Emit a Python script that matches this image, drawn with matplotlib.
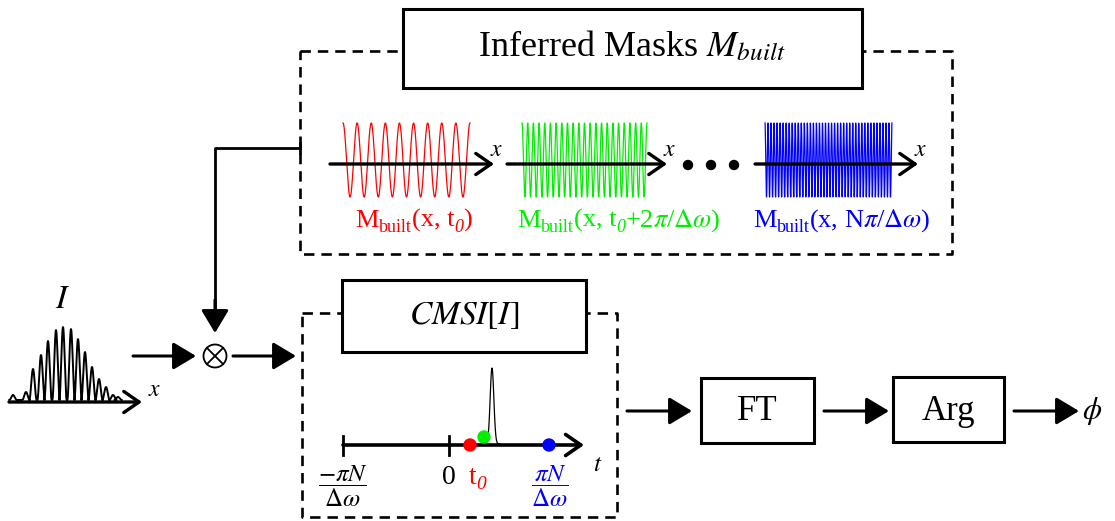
import numpy as np
import matplotlib.pyplot as plt
from matplotlib.patches import Rectangle, Circle

plt.rcParams['font.family'] = ['Liberation Serif', 'DejaVu Serif']
plt.rcParams['mathtext.fontset'] = 'stix'
plt.rcParams['lines.scale_dashes'] = False

# input interferogram I: fringe peak heights (px above baseline)
fringe_pos = [13, 26, 33, 41, 48, 56, 63, 71, 78, 85, 92, 99, 106, 113, 118]
fringe_height = [5, 8, 31, 45, 59, 70, 73, 71, 61, 48, 33, 21, 13, 5, 3]

# inferred masks
mask_colors = ['#ff0000', '#00ee00', '#0000ff']
mask_cycles = [9, 22, 42]
mask_wave_x = [(343, 470), (522, 647), (765, 892)]
mask_axis_x = [(330, 494), (507, 667), (755, 918)]
# label pieces: (text, size, style, drop below baseline)
mask_labels = [
    [('M', 19, 'normal', 0), ('built', 13, 'normal', 5), ('(x, t', 19, 'normal', 0),
     ('0', 13, 'italic', 5), (')', 19, 'normal', 0)],
    [('M', 19, 'normal', 0), ('built', 13, 'normal', 5), ('(x, t', 19, 'normal', 0),
     ('0', 13, 'italic', 5), (r'+2$\pi$/$\Delta\omega$)', 19, 'normal', 0)],
    [('M', 19, 'normal', 0), ('built', 13, 'normal', 5),
     (r'(x, N$\pi$/$\Delta\omega$)', 19, 'normal', 0)],
]
mask_label_x = [414, 619, 842]

# CMSI time axis
t_ticks = [343, 449]
t_dots = [470, 484, 549]
t_dot_dy = [0, -8, 0]
t_dot_colors = ['#ff0000', '#00ee00', '#0000ff']

BLACK = 'black'
LW_BOX = 2.2
LW_DASH = 1.9


def arrow(ax, x0, y0, x1, y1, filled=True, lw=2.2):
    if filled:
        st = '-|>,head_length=0.7,head_width=0.42'
    else:
        st = '->,head_length=0.55,head_width=0.38'
    ax.annotate('', xy=(x1, y1), xytext=(x0, y0),
                arrowprops=dict(arrowstyle=st, lw=lw, color=BLACK,
                                shrinkA=0, shrinkB=0, mutation_scale=20))


def dashed_box(ax, x0, y0, x1, y1):
    ax.plot([x0, x1, x1, x0, x0], [y0, y0, y1, y1, y0], color=BLACK,
            lw=LW_DASH, dashes=(7.5, 5), zorder=1)


def solid_box(ax, x0, y0, x1, y1):
    ax.add_patch(Rectangle((x0, y0), x1 - x0, y1 - y0, fc='white', ec=BLACK,
                           lw=LW_BOX, zorder=3))


def rich_text(ax, renderer, xc, y, pieces, color):
    # pieces laid out left to right on one baseline, centred on xc
    items = []
    for s, size, style, dy in pieces:
        t = ax.text(0, y + dy, s, fontsize=size, fontstyle=style, color=color,
                    ha='left', va='baseline')
        items.append((t, t.get_window_extent(renderer).width))
    x = xc - sum(w for _, w in items) / 2
    for t, w in items:
        t.set_x(x)
        x += w


fig = plt.figure(figsize=(11.15, 5.21), dpi=100)
ax = fig.add_axes([0, 0, 1, 1])
ax.set_xlim(0, 1115)
ax.set_ylim(521, 0)
ax.axis('off')
renderer = fig.canvas.get_renderer()

# ---- top dashed group: inferred masks
dashed_box(ax, 300, 51, 952, 254)
solid_box(ax, 403, 9, 862, 88)
ax.text(632, 47, r'Inferred Masks $M_{built}$', fontsize=26, ha='center',
        va='center', zorder=4)

for col, cyc, (wx0, wx1), (ax0, ax1), lab, lx in zip(mask_colors, mask_cycles, mask_wave_x,
                                                      mask_axis_x, mask_labels, mask_label_x):
    xs = np.linspace(wx0, wx1, cyc * 40)
    ys = 160 - 37 * np.cos(2 * np.pi * cyc * (xs - wx0) / (wx1 - wx0))
    ax.plot(xs, ys, color=col, lw=0.9, zorder=2)
    arrow(ax, ax0, 164, ax1, 164, filled=False, lw=2.4)
    ax.text(ax1 - 4, 150, r'$x$', fontsize=17, ha='left', va='center')
    rich_text(ax, renderer, lx, 227, lab, col)

for dx in [688, 711, 734]:
    ax.add_patch(Circle((dx, 165), 4.5, color=BLACK))

# connection from masks to multiplier
ax.plot([300, 215, 215], [148, 148, 320], color=BLACK, lw=2.0)
ax.plot([300, 300], [143, 153], color=BLACK, lw=2.0)
arrow(ax, 215, 300, 215, 333)

# ---- input pattern I
xs_all, ys_all = [], []
half = 3.7
for p, h in zip(fringe_pos, fringe_height):
    xs = np.linspace(p - half, p + half, 30)
    ys = h * np.cos(np.pi * (xs - p) / (2 * half)) ** 2
    xs_all.append(xs)
    ys_all.append(ys)
xs_all = np.concatenate(xs_all)
ys_all = np.concatenate(ys_all)
ax.plot(xs_all, 400 - ys_all, color=BLACK, lw=1.4)
arrow(ax, 9, 402, 142, 402, filled=False, lw=2.4)
ax.text(148, 391, r'$x$', fontsize=17, ha='left', va='center')
ax.text(63, 300, r'$I$', fontsize=24, ha='center', va='center')

arrow(ax, 133, 356, 196, 356)
ax.add_patch(Circle((215, 356), 11.5, fc='white', ec=BLACK, lw=1.3))
ax.plot([207, 223], [348, 364], color=BLACK, lw=1.3)
ax.plot([207, 223], [364, 348], color=BLACK, lw=1.3)
arrow(ax, 233, 356, 296, 356)

# ---- CMSI group
dashed_box(ax, 302, 313, 617, 517)
solid_box(ax, 342, 280, 586, 352)
ax.text(464, 316, r'$CMSI[I]$', fontsize=24, ha='center', va='center', zorder=4)

arrow(ax, 343, 445, 584, 445, filled=False, lw=2.6)
for tx in t_ticks:
    ax.plot([tx, tx], [436, 455], color=BLACK, lw=2.0)
ax.text(343, 486, r'$\dfrac{-\pi N}{\Delta\omega}$', fontsize=18, ha='center', va='center')
ax.text(449, 477, '0', fontsize=20, ha='center', va='center')
rich_text(ax, renderer, 477, 484, [('t', 20, 'normal', 0), ('0', 14, 'italic', 5)], '#ff0000')
ax.text(550, 486, r'$\dfrac{\pi N}{\Delta\omega}$', fontsize=18, color='#0000ff',
        ha='center', va='center')
ax.text(598, 465, r'$t$', fontsize=18, ha='center', va='center')

px = np.linspace(484, 500, 80)
ax.plot(px, 444 - 76 * np.exp(-((px - 492) / 2.6) ** 2), color=BLACK, lw=0.9)
for dx, dy, dc in zip(t_dots, t_dot_dy, t_dot_colors):
    ax.add_patch(Circle((dx, 445 + dy), 6, color=dc, zorder=5))

# ---- FT / Arg chain
arrow(ax, 627, 411, 692, 411)
solid_box(ax, 701, 378, 814, 443)
ax.text(757, 411, 'FT', fontsize=25, ha='center', va='center', zorder=4)
arrow(ax, 824, 411, 889, 411)
solid_box(ax, 893, 377, 1004, 442)
ax.text(948, 411, 'Arg', fontsize=25, ha='center', va='center', zorder=4)
arrow(ax, 1014, 411, 1079, 411)
ax.text(1092, 411, r'$\phi$', fontsize=22, ha='center', va='center')

fig.savefig('out.png', dpi=100)
